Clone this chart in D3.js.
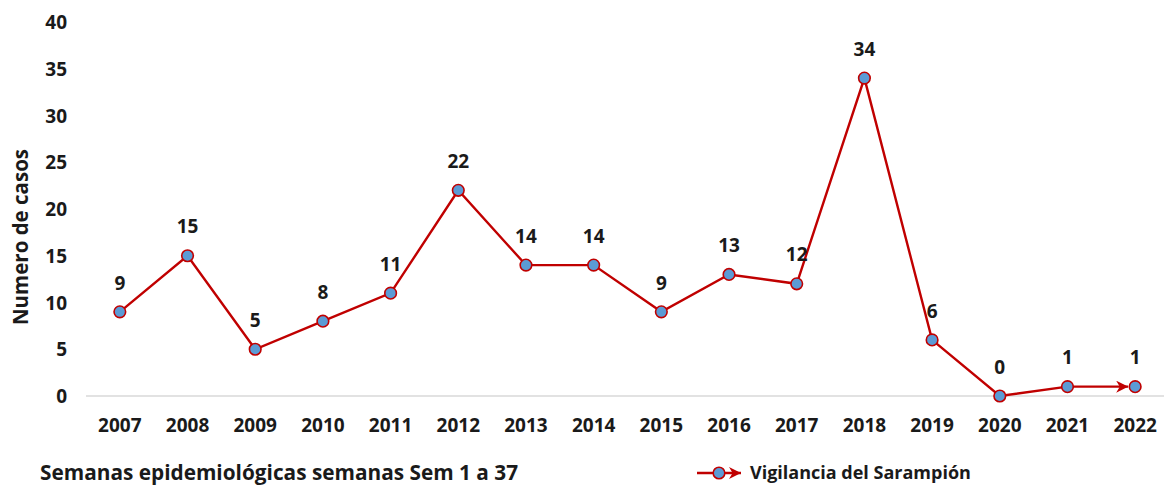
<!DOCTYPE html>
<html>
<head>
<meta charset="utf-8">
<script src="https://cdn.jsdelivr.net/npm/d3@7"></script>
<style>
  body { margin: 0; background: #fff; }
  text { font-family: "Open Sans", sans-serif; font-weight: 700; fill: #1a1a1a; }
</style>
</head>
<body>
<div id="chart"></div>
<script>
// years and cases (Sem 1 a 37)
const years = ["2007","2008","2009","2010","2011","2012","2013","2014","2015","2016","2017","2018","2019","2020","2021","2022"];
const casos = [9, 15, 5, 8, 11, 22, 14, 14, 9, 13, 12, 34, 6, 0, 1, 1];
const yTicks = [0, 5, 10, 15, 20, 25, 30, 35, 40];

const width = 1164, height = 490;
const red = "#c00000", blue = "#5b9bd5";

const svg = d3.select("#chart").append("svg")
    .attr("width", width)
    .attr("height", height);

const defs = svg.append("defs");
defs.append("marker")
    .attr("id", "arrow")
    .attr("viewBox", "0 0 10 10")
    .attr("refX", 10).attr("refY", 5)
    .attr("markerWidth", 5).attr("markerHeight", 5)
    .attr("markerUnits", "strokeWidth")
    .attr("orient", "auto")
    .append("path")
    .attr("d", "M0,0 L10,5 L0,10 L3,5 Z")
    .attr("fill", red);

let x = d3.scaleBand().domain(years).range([86, 1169]);
let y = d3.scaleLinear().domain([0, 40]).range([396, 22]);

// baseline
svg.append("line")
    .attr("x1", 86).attr("x2", 1164)
    .attr("y1", y(0)).attr("y2", y(0))
    .attr("stroke", "#d9d9d9").attr("stroke-width", 1.5);

// y axis labels
let yAxis = d3.axisLeft(y).tickValues(yTicks).tickSize(0).tickPadding(0);
let gy = svg.append("g").attr("transform", "translate(67,0)").call(yAxis);
gy.select(".domain").remove();
gy.selectAll("text").style("font-size", "19px").attr("dy", "0.35em");

// x axis labels
let xAxis = d3.axisBottom(x).tickSize(0).tickPadding(0);
let gx = svg.append("g").attr("transform", "translate(0,425)").call(xAxis);
gx.select(".domain").remove();
gx.selectAll("text").style("font-size", "19px").attr("dy", "0.35em");

svg.append("text")
    .attr("transform", "translate(21,237) rotate(-90)")
    .attr("text-anchor", "middle")
    .attr("dy", "0.35em")
    .style("font-size", "20.5px")
    .text("Numero de casos");

const pts = years.map((yr, i) => ({ yr: yr, v: casos[i], cx: x(yr) + x.bandwidth() / 2, cy: y(casos[i]) }));

const line = d3.line().x(d => d.cx).y(d => d.cy);
// main line
svg.append("path")
    .datum(pts.slice(0, pts.length - 1))
    .attr("d", line)
    .attr("fill", "none")
    .attr("stroke", red)
    .attr("stroke-width", 2.4);
// last segment ends with arrow at the marker edge
let a = pts[pts.length - 2], b = pts[pts.length - 1];
svg.append("line")
    .attr("x1", a.cx).attr("y1", a.cy)
    .attr("x2", b.cx - 7).attr("y2", b.cy)
    .attr("stroke", red).attr("stroke-width", 2.4)
    .attr("marker-end", "url(#arrow)");

svg.selectAll(".pt")
    .data(pts)
    .enter().append("circle")
    .attr("class", "pt")
    .attr("cx", d => d.cx).attr("cy", d => d.cy)
    .attr("r", 5.8)
    .attr("fill", blue)
    .attr("stroke", red)
    .attr("stroke-width", 1.6);

svg.selectAll(".lbl")
    .data(pts)
    .enter().append("text")
    .attr("class", "lbl")
    .attr("x", d => d.cx).attr("y", d => d.cy - 29)
    .attr("text-anchor", "middle")
    .attr("dy", "0.35em")
    .style("font-size", "19px")
    .text(d => d.v);

// bottom note
svg.append("text")
    .attr("x", 40).attr("y", 473)
    .attr("dy", "0.35em")
    .style("font-size", "20.8px")
    .text("Semanas epidemiológicas semanas Sem 1 a 37");

// legend
let lg = svg.append("g").attr("transform", "translate(697,473)");
lg.append("line")
    .attr("x1", 0).attr("x2", 44).attr("y1", 0).attr("y2", 0)
    .attr("stroke", red).attr("stroke-width", 2.4)
    .attr("marker-end", "url(#arrow)");
lg.append("circle")
    .attr("cx", 22).attr("cy", 0).attr("r", 5.8)
    .attr("fill", blue).attr("stroke", red).attr("stroke-width", 1.6);
lg.append("text")
    .attr("x", 53).attr("dy", "0.35em")
    .style("font-size", "18px")
    .text("Vigilancia del Sarampión");
</script>
</body>
</html>
